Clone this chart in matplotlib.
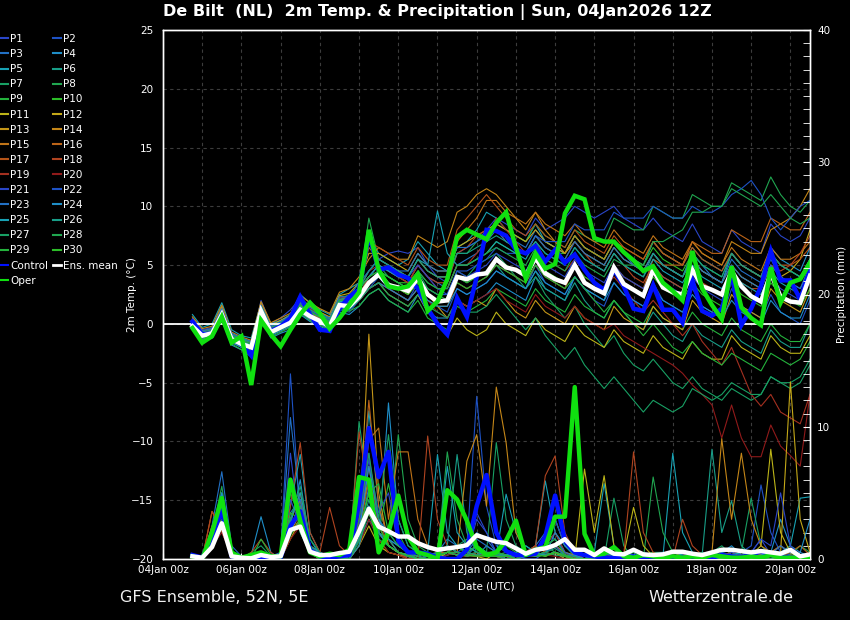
import matplotlib
matplotlib.use('Agg')
import matplotlib.pyplot as plt
import matplotlib.dates as mdates
from matplotlib.lines import Line2D
from matplotlib.ticker import MultipleLocator, FixedLocator
import pandas as pd

# ---------------- data ----------------
times = pd.date_range('2026-01-04 18:00', periods=64, freq='6h')

mean_t = [-0.2,-1.0,-0.8,0.8,-1.3,-1.7,-2.0,1.1,-0.7,-0.3,0.1,1.2,0.65,0.25,-0.2,1.6,1.5,
          2.3,3.5,4.2,3.3,3.1,2.8,3.9,2.5,1.9,2.0,4.0,3.8,4.2,4.3,
          5.5,4.8,4.6,4.1,5.6,4.3,3.8,3.5,5.0,3.5,3.0,2.6,4.8,3.4,2.9,2.4,4.6,3.1,2.7,2.5,4.6,3.2,2.9,2.5,4.5,3.2,2.35,1.9,4.3,2.3,1.9,1.8,4.1]
control_t = [0.2,-0.9,-0.8,0.8,-1.3,-1.7,-2.7,0.9,-0.6,-0.2,0.5,2.3,0.8,-0.5,-0.6,1.3,2.3,
             2.9,7.6,4.6,4.8,4.2,3.9,3.0,1.3,0.0,-0.9,2.2,0.6,4.0,8.0,
             7.9,7.5,6.3,6.0,6.6,5.3,6.3,5.2,5.9,4.6,3.5,2.9,4.6,3.2,1.3,1.1,3.3,1.2,1.2,0.1,3.7,1.1,0.7,1.3,4.2,-0.1,1.3,3.2,6.2,3.7,3.7,2.1,4.6]
oper_t = [-0.35,-1.6,-1.05,0.6,-1.6,-1.05,-5.2,0.3,-0.9,-1.9,-0.5,0.8,1.8,0.9,-0.4,0.5,1.6,
          2.7,8.0,4.6,3.2,3.0,3.2,4.2,1.1,1.9,3.8,7.4,8.0,7.6,7.2,
          8.6,9.5,6.5,3.9,6.0,4.7,5.1,9.4,10.9,10.6,7.3,7.0,7.0,6.1,5.4,4.5,4.9,3.5,2.8,2.0,6.2,3.0,1.6,0.4,4.9,1.4,0.5,-0.1,4.8,1.8,3.5,3.8,5.2]

mean_p = [0.2,0.1,0.9,2.7,0.2,0.1,0.05,0.3, 0.15,0.2,2.2,2.45,0.55,0.3,0.3,0.45,
          0.55,2.1,3.8,2.45,2.1,1.7,1.7,1.2, 0.9,0.7,0.8,0.9,1.05,1.8,1.55,1.3,
          1.2,0.8,0.4,0.7,0.8,1.05,1.5,0.7, 0.7,0.3,0.8,0.4,0.35,0.7,0.35,0.3,
          0.35,0.55,0.55,0.4,0.3,0.5,0.7,0.7, 0.6,0.5,0.6,0.5,0.4,0.7,0.2,0.35]
control_p = [0.3,0.1,1.7,3.7,0.2,0,0,0, 0,0.1,2.5,3.6,0.7,0.2,0.1,0.2,
             0.3,4.2,9.9,6.2,8.1,1.4,0.5,0.5, 0.4,0.1,0,0,0.7,4.0,6.35,2.0,
             0.6,0.3,0.3,0.4,1.7,4.8,1.4,0.5, 0.3,0.2,0.1,0.1,0.1,0.2,0.1,0.1,
             0.2,0.1,0.1,0.1,0.2,0.1,0.3,0.2, 0.1,0.3,0.6,0.3,0.2,0.1,0.1,0.1]
oper_p = [0.2,0,2.0,4.6,0.5,0.1,0.3,0.5, 0.2,0.2,6.0,2.9,0.5,0.2,0.4,0.3,
          0.7,6.2,6.0,0.5,2.0,4.8,1.7,0.5, 0.3,0,5.2,4.5,2.9,0.9,0.3,0.5,
          1.4,2.9,0.3,0.7,0.9,3.2,3.2,13.0, 1.9,0.3,0.4,0.9,0.2,0.1,0.3,0.2,
          0.1,0.2,0.1,0.2,0.1,0.3,0.2,0.1, 0.1,0.2,0.1,0.3,0.1,0.1,0.1,0.1]

# ensemble member temperatures (deg C)
p01_t = [0.5,-0.5,-0.3,1.5,-1,-1.5,-1.8,2,0,0.5,1.2,2.2,1.5,1,0.5,2,2.2,
         3,4.5,5.5,6,6.2,6,6.5,5,4,3.5,6,6.5,7,8,
         9,8.5,8,7.5,9,8,8.5,9,10,9.5,9,9.5,10,9,8.5,8,9,8,7.5,7,8.5,7,6.5,6,8,7,6.5,6,8.5,7.5,7,7.5,9]
p02_t = [-0.3,-1.2,-1,0.5,-1.5,-2,-2.5,0.8,-1,-0.5,0,1,0.3,0,-0.5,1.2,1,
         2,3,4,3,2.5,2,3.5,2,1.5,1,3,2.5,3,3.5,
         4.5,4,3.5,3,5,3.5,3,2.5,4,3,2,1.5,3.5,2.5,2,1.5,3.5,2,1.5,1,3,1.5,1,0.5,3,1.5,1,0.5,2.5,1,0.5,0,2]
p03_t = [0,-0.8,-0.6,1,-1.2,-1.4,-1.5,1.5,-0.3,0,0.5,1.8,1,0.5,0,2,2.5,
         3,4,5,4.5,4,3.5,5,4,3.5,3,5,5.5,6,7,
         8,7.5,7,6.5,8,7,6.5,6,7.5,6.5,6,5.5,7,6,5,4.5,6,5,4.5,4,6,5,4,3.5,5.5,4.5,4,3.5,5.5,4,3.5,3,5]
p04_t = [-0.5,-1.3,-1.2,0.3,-1.8,-2.2,-2.5,0.5,-1.2,-0.8,-0.5,0.8,0.2,-0.2,-0.6,1,0.8,
         1.5,2.5,3,2,1.5,1,2.5,1,0.5,0.5,2,1.5,2,2.5,
         3.5,3,2.5,2,4,3,2.5,2,4,3,2.5,2,4.5,3.5,3,2.5,5,4,3.5,3,5.5,4.5,4,3.5,6,5,4.5,4,6.5,5.5,5,4.5,6.5]
p05_t = [0.8,-0.3,0,1.8,-0.5,-1,-1.2,1.8,0,0.3,0.8,2.5,1.8,1.2,0.8,2.5,3,
         3.5,7.5,6,5.5,5,5.5,7,6,5,4.5,6.5,7,8,9.5,
         9,8,7.5,7,8.5,7,6.5,6,7.5,6.5,6,5.5,7,6,5.5,5,7,6,5.5,5,6.5,5.5,5,4.5,6,5,4.5,4,6,5,4.5,4,5.5]
p06_t = [0.2,-1,-0.9,1.2,-1.4,-1.8,-2.2,1,-0.8,-0.5,0.2,1.5,1,0.5,0,1.8,1.6,
         2.5,3.5,4.5,3.5,3,2.5,4,2.5,2,2,4,3.5,4,4.5,
         5,4,3.5,3,4.5,3,2.5,2,3.5,2,1,0.5,2,1,0,-0.5,1,0,-1,-1.5,0,-1,-1.5,-2,-0.5,-1.5,-2,-2.5,-0.5,-1.5,-2,-2,0]
p07_t = [-0.1,-1.1,-0.9,0.9,-1.2,-1.6,-2,1.2,-0.6,-0.2,0.3,1.3,0.8,0.3,-0.1,1.7,1.8,
         2.5,4,5,4,3.5,3,4.5,3,2.5,2.5,4.5,4,5,5.5,
         6,5,4,3,4,2.5,1.5,0.5,1.5,0,-1,-2,-1,-2.5,-3.5,-4,-3,-4,-5,-5.5,-4.5,-5.5,-6,-6.5,-5.5,-6,-6.5,-6,-4.5,-5,-5.5,-5,-3.5]
p08_t = [0.3,-0.7,-0.5,1.3,-0.8,-1.2,-1.5,1.6,-0.2,0.2,0.6,2,1.4,0.9,0.5,2.3,2.4,
         3,9,5.5,5,4.5,4,5.5,4.5,4,4,6,6,7,7.5,
         8.5,8,7.5,7,8.5,7.5,7,6.5,8,7.5,7,7,9,8.5,8,8,10,9.5,9,9,11,10.5,10,10,12,11.5,11,10.5,12.5,11,10,9.5,10.5]
p09_t = [-0.4,-1.4,-1.2,0.4,-1.7,-2.2,-2.8,0.7,-1.1,-0.7,-0.3,0.9,0.3,-0.1,-0.5,1.3,1.1,
         1.5,2.5,3,2,1.5,1,2,0.5,0,-0.5,1.5,1,1.5,2,
         3,2.5,2,1.5,3,2,1.5,1,2.5,1.5,1,0.5,2,1,0.5,0,1.5,0.5,0,-0.5,1,0,-0.5,-1,0.5,-0.5,-1,-1.5,0,-1,-1.5,-1.5,0]
p10_t = [0.1,-0.9,-0.7,1,-1.1,-1.5,-1.9,1.3,-0.5,-0.1,0.4,1.6,1,0.6,0.2,1.9,2,
         3,4,4.5,4,3.5,3.5,4.5,3.5,3,3,5,5,5.5,6,
         7,6.5,6,6,7.5,6.5,6,6,7.5,6.5,6,5.5,7,6,5.5,5,6.5,5.5,5,4.5,6,5,4.5,4,6,5,4.5,4,6,5,4.5,4,5.5]
p11_t = [-0.2,-1.1,-0.9,0.7,-1.4,-1.8,-2.1,1,-0.8,-0.4,0,1.1,0.5,0.1,-0.3,1.4,1.3,
         2,3,3.5,2.5,2,1.5,2.5,1,0,-1,0.5,-0.5,-1,-0.5,
         1,0,-0.5,-1,0.5,-0.5,-1,-1.5,0,-1,-1.5,-2,-0.5,-1.5,-2,-2.5,-1,-2,-2.5,-3,-1.5,-2.5,-3,-3,-1,-2,-2.5,-3,-1,-2,-2.5,-2.5,-1]
p12_t = [0.4,-0.6,-0.4,1.4,-0.9,-1.3,-1.6,1.7,-0.1,0.3,0.7,2.1,1.5,1,0.6,2.4,2.6,
         3.5,6,6,5.5,5,4.5,6,5,4.5,4.5,6.5,7,7.5,8,
         8.5,8,7.5,7,8,7,6.5,6,7,6,5.5,5,6.5,5.5,5,4.5,6,5,4.5,4,5.5,4.5,4,3.5,5,4,3.5,3,5,4,4.5,5.5,8]
p13_t = [0,-1,-0.8,0.9,-1.3,-1.7,-2,1.2,-0.7,-0.3,0.1,1.3,0.7,0.3,-0.1,1.6,1.6,
         2.5,3.5,4,3.5,3,2.5,3.5,2.5,1.5,0.5,2,1.5,2,1.5,
         3,2,1,0.5,2,1,0.5,0,1.5,0.5,0,-0.5,1.5,0.5,0,-0.5,1.5,0.5,0,-0.5,2,1,0.5,0,2.5,1.5,1,0.5,3,2,1.5,1,3]
p14_t = [0.6,-0.4,-0.2,1.6,-0.7,-1.1,-1.4,1.9,0.1,0.5,0.9,2.4,1.8,1.3,0.9,2.7,3,
         4,5.5,6.5,6,5.5,5.5,7.5,7,6.5,7,9.5,10,11,11.5,
         11,10,9,8,9.5,8,7,6,7.5,6.5,6,5.5,7,6.5,6,5.5,7,6,5.5,5,7,6,5.5,5,7,6.5,6,6,8,8.5,9,10,11.5]
p15_t = [0.2,-0.8,-0.6,1.1,-1,-1.4,-1.7,1.5,-0.4,0,0.5,1.7,1.2,0.7,0.3,2.1,2.1,
         3,6.5,5.5,5,4.5,4,5.5,4.5,4,4,7,8,9,10.5,
         10.5,9.5,9,8.5,9.5,8.5,8,7.5,8.5,7.5,7,6.5,8,7,6.5,6,7.5,6.5,6,5.5,7,6,5.5,5,6.5,5.5,5,4.5,6.5,5.5,5.5,6,7]
p16_t = [-0.3,-1.3,-1.1,0.6,-1.5,-1.9,-2.3,0.9,-0.9,-0.5,-0.1,1,0.4,0,-0.4,1.5,1.4,
         2,3,3.5,3,2.5,2,3,2,1.5,1.5,3.5,3,3.5,4,
         5,4.5,4,3.5,5,4,3.5,3,5,4,3.5,3,5,4,3.5,3,5.5,5,5,5,7,6.5,6,6,8,7.5,7,7,9,8.5,8,8,9.5]
p17_t = [0.1,-0.9,-0.7,1,-1.2,-1.6,-1.9,1.3,-0.6,-0.2,0.3,1.5,0.9,0.5,0.1,1.8,1.9,
         3,7,6.5,6,5.5,5,6.5,5.5,5,5,8,9,10,11,
         10,9,8,7.5,8.5,7.5,7,6.5,8,7,6.5,6,7.5,6.5,6,5.5,7,6,5.5,5,6.5,5.5,5,4.5,6,5,4.5,4,6,5,5,5.5,6.5]
p18_t = [-0.1,-1.1,-0.9,0.8,-1.3,-1.7,-2.1,1.1,-0.7,-0.3,0.2,1.4,0.8,0.4,0,1.7,1.7,
         2.5,4,5,4.5,4,3.5,5,4,3.5,3.5,6,6.5,7.5,8,
         8,7,6.5,6,7.5,6.5,6,5.5,7,6,5,4.5,6,5,4,3.5,5,4,3.5,3,4.5,3.5,3,2.5,4,3.5,3,3,5,4.5,5,6,7.5]
p19_t = [0.3,-0.7,-0.5,1.2,-0.9,-1.3,-1.6,1.6,-0.3,0.1,0.6,1.9,1.3,0.8,0.4,2.2,2.3,
         3,4.5,5,4.5,4,3.5,5,4,3,3,5,5,6,7,
         9,8,7,6,7,5.5,5,4.5,5.5,4.5,3.5,3,4,3,2,1,2,1,0,-1,0,-1.5,-2.5,-3.5,-2,-4,-6,-7,-6,-7.5,-8,-8.5,-6]
p20_t = [-0.2,-1.2,-1,0.7,-1.4,-1.8,-2.2,1,-0.8,-0.4,0,1.2,0.6,0.2,-0.2,1.5,1.4,
         2,3,3.5,3,2.5,2,3,2,1,0.5,2,1.5,2,2.5,
         3,2,1.5,1,2.5,1.5,1,0.5,1.5,0.5,0,-0.5,0,-1,-1.5,-2,-2.5,-3,-3.5,-4.2,-5.2,-6,-6.9,-9.7,-6.9,-9.7,-11.3,-11.3,-8.6,-10.4,-11.2,-12.1,-6]
p21_t = [0.2,-0.8,-0.6,1.1,-1,-1.4,-1.7,1.4,-0.4,0,0.5,1.7,1.1,0.7,0.3,2,2,
         3,4,5,4.5,4,4,5,4,3,2.5,4.5,4,4.5,5,
         6,5.5,5,4.5,6,5,4.5,4,5.5,4.5,4,3.5,5,4,3.5,3,4.5,3.5,3,2.5,4,3,2.5,2,4,3,2.5,2,4,3,2.5,2,4]
p22_t = [-0.1,-1,-0.8,0.9,-1.2,-1.6,-1.9,1.2,-0.6,-0.2,0.3,1.4,0.8,0.4,0,1.8,1.8,
         2.5,3.5,4,3.5,3,3,4,3,2.5,2.5,4.5,4.5,5,5.5,
         6.5,6,6,6,7.5,7,7,7,8.5,8,8,8,9.5,9,9,9,10,9.5,9,9,10,9.5,9.5,10,11,11.5,12.2,11,9,8,9,10,10.5]
p23_t = [0.4,-0.6,-0.4,1.3,-0.8,-1.2,-1.5,1.6,-0.2,0.2,0.7,2,1.4,0.9,0.5,2.3,2.3,
         3.5,4.5,5.5,5,4.5,4.5,6,5,4.5,4.5,6.5,6.5,7,7.5,
         8,7,6.5,6,7.5,6.5,6,5.5,7,6,5.5,5,6.5,5.5,5,4.5,6,5,4.5,4,5.5,4.5,4,3.5,5,4,3.5,3,5,4,3.5,3,4.5]
p24_t = [-0.4,-1.3,-1.1,0.5,-1.6,-2,-2.4,0.8,-1,-0.6,-0.2,1,0.4,0,-0.4,1.4,1.2,
         2,3,3.5,3,2.5,2,3,2,1.5,1.5,3,2.5,3,3.5,
         4.5,4,3.5,3,4.5,3.5,3,2.5,4,3,2.5,2,3.5,2.5,2,1.5,3,2,1.5,1,2.5,1.5,1,0.5,2,1,0.5,0,2,1,0.5,0.5,2.5]
p25_t = [0.1,-0.9,-0.7,1,-1.1,-1.5,-1.8,1.3,-0.5,-0.1,0.4,1.5,1,0.6,0.2,1.9,1.9,
         3,4,5,4.5,4,4,5.5,5,9.6,6,5,5,5.5,6,
         7,6.5,6,5.5,7,6,5.5,5,6.5,5.5,5,4.5,6,5,4.5,4,5.5,4.5,4,3.5,5,4,3.5,3,4.5,3.5,3,2.5,4.5,3.5,3,2.5,4]
p26_t = [0.3,-0.7,-0.5,1.2,-0.9,-1.3,-1.6,1.5,-0.3,0.1,0.6,1.8,1.2,0.8,0.4,2.1,2.2,
         3,4.5,5.5,5,4.5,4,5.5,4.5,4,4,6,6,6.5,7,
         7.5,7,6.5,6,7,6,5.5,5,6.5,5.5,5,4.5,6,5,4.5,4,6,5,4.5,4,6,5,4.5,4,6,5,4.5,4,6,5,4.5,4,5.5]
p27_t = [-0.3,-1.2,-1,0.6,-1.5,-1.9,-2.3,0.9,-0.9,-0.5,-0.1,1.1,0.5,0.1,-0.3,1.5,1.3,
         2,3,3.5,2.5,2,1.5,2.5,1.5,1,0.5,2,1,1,1.5,
         2.5,1.5,0.5,-0.5,0.5,-1,-2,-3,-2,-3.5,-4.5,-5.5,-4.5,-5.5,-6.5,-7.5,-6.5,-7,-7.5,-7,-5.5,-6,-6.5,-6,-5,-5.5,-6,-6,-4.5,-5,-5,-4.5,-3]
p28_t = [0,-1,-0.8,0.8,-1.3,-1.7,-2,1.1,-0.7,-0.3,0.2,1.3,0.7,0.3,-0.1,1.6,1.6,
         2.5,3.5,4.5,4,3.5,3,4.5,3.5,3,3,5,5,5.5,6,
         6.5,6,5.5,5,6.5,5.5,5,4.5,6,5,4.5,4,5.5,5,5,5,7,7,7.5,8,9.5,9.5,10,10,11.5,11,10.5,10,11,10,9,8.5,9]
p29_t = [0.2,-0.8,-0.6,1.1,-1,-1.4,-1.7,1.4,-0.4,0,0.5,1.6,1,0.6,0.2,2,2,
         3,4,4.5,4,3.5,3,4,3,2.5,2,3.5,3,3.5,4,
         5,4.5,4,3.5,5,4,3.5,3,4,3,2,1,2,1,0,-1,0,-1,-2,-2.5,-1.5,-2.5,-3,-3.5,-2.5,-3,-3.5,-4,-2.5,-3,-3.5,-3,-1.5]
p30_t = [-0.2,-1.1,-0.9,0.7,-1.4,-1.8,-2.1,1,-0.8,-0.4,0,1.2,0.6,0.2,-0.2,1.5,1.5,
         2.5,3.5,4,3.5,3,2.5,3.5,2.5,2,2,4,3.5,4,4.5,
         5.5,5,4.5,4,5.5,4.5,4,3.5,5,4,3.5,3,4.5,3.5,3,2.5,4,3,2.5,2,3.5,2.5,2,1.5,3.5,2.5,2,1.5,3.5,2.5,2,1.5,3]

# ensemble member precipitation (mm / 6h)
p01_p = [0.2,0,1.5,4.5,0.3,0,0,0.2, 0,0.3,8,2,0.5,0,0.2,0, 0.2,3,8,2,1,0.5,0.3,0, 0,0.5,1,0.5,0.3,3,2,0.5,
         0,0.2,0.5,0.3,1,2,0.5,0, 0,0,0.3,0,0,0.2,0,0, 0,0,0.3,0.5,0.2,0,0,0, 0,0.5,1.5,0.3,0,0.2,0,0]
p02_p = [0,0.1,2,5,0.5,0,0,0, 0,0.5,14,3,0.5,0.2,0,0, 0,1,4,3,1.5,0.5,0,0, 0,0,0.3,0.5,1,12.3,4,1,
         0.5,0.3,0,0,0.5,1,0.3,0, 0,0,0,0,0.3,0.5,0,0, 0,0,0,0.3,0,0,0,0.2, 0.5,1,5.6,2,0.5,0.3,0,0]
p03_p = [0.3,0,2.5,6.6,1,0.2,0,0.5, 0.2,0.5,10.7,4,1,0.3,0,0.2, 0.5,2,5,2.5,1,0.5,0.2,0, 0.2,0.5,1.5,1,0.5,2,1.5,0.5,
         0.2,0,0.5,1,2,1.5,0.5,0.2, 0,0,0.5,0.3,0,0,0.2,0, 0,0.2,0.5,0.3,0,0,0.5,0.3, 0,0,0.3,0.5,1,0.3,0.2,0]
p04_p = [0.2,0,1,3,0.5,0,0.3,3.2, 0.5,0,3,5,1,0.2,0,0, 0,1.5,3,1.5,11.8,3,1,0.5, 0.2,0,0.5,1,0.5,0.2,1,0.5,
         0,0,0.2,0.5,1.5,3,1,0.3, 0,0,0,0.2,0,0,0.5,0.3, 0,0,0,0,0.3,0,0.5,1, 0.3,0,0,0.5,3,1,0.5,0.2]
p05_p = [0.3,0,2,5,0.5,0,0,0, 0,0.2,4,7.9,2,0.5,0.2,0, 0.2,2,11.2,4,1.5,1,0.5,0.2, 0.5,7.9,2,1,0.5,1,0.5,0.3,
         4.9,2,0.5,1,5.9,2,0.5,0.2, 0,0.5,5.7,1,0.3,0,0,0, 0.2,8,2,0.5,0.2,0.3,0,0.5, 0.2,0,0,0.3,0.5,1,4.6,4.7]
p06_p = [0.2,0,1.5,4,0.5,0,0,0, 0,0,2,4,1,0.2,0,0, 0,1,3,2,1,0.5,0.3,0, 0,0.5,1,7.9,2,0.5,0.3,0.2,
         0,0.5,1,0.5,0.3,0.5,0,0, 0.3,0,0.5,0,0,0.3,0,0.5, 0.3,0,0.5,0.2,0.3,8.3,2,4.4, 1,0.3,0,0,0.3,0.5,0.2,0]
p07_p = [0.1,0,1,3,0.3,0,0.5,1, 0.2,0,2,4.5,1,0.3,0,0, 0,10.4,5,2,1,0.5,0.3,0.5, 0.3,0.2,0.5,1,1.5,1,0.5,8.8,
         3,1,0.5,0.3,0.5,1,0.5,0, 0,0.5,0,4.6,1,0,0,0.5, 0.5,0,0,0,0.2,0.5,1,0.3, 0.5,4.6,1,0.3,0,0,0.3,0]
p08_p = [0.2,0,2,5.5,0.5,0,0,0.3, 0,0.3,5,3,1,0.3,0,0, 0,2,7,3,1.5,9.4,3,1, 0.5,0.3,8.1,3,1,0.5,0.3,0.2,
         0,0,0.5,0.5,1,0.5,0.2,0, 0,0,0,0,0.3,0.5,0,6.2, 2,0.5,0.3,0,0,0,0,0.2, 0,0.3,0.5,0.2,0,0.3,1,0.5]
p09_p = [0,0,1,3.5,0.3,0,0,0.5, 0,0,3,2.5,0.5,0,0,0.2, 0.5,1.5,4,2,5.7,2,0.5,0.2, 0,0,0.3,0.5,0.3,1,0.5,0.5,
         1,0.5,0.3,0.5,1,3,1,0.2, 0,0,0,0,0,0,0.3,0.5, 0.2,0,0,0,0.5,0.3,0,0, 0,0.5,0.3,0,0,0,0,0.3]
p10_p = [0.2,0,1.5,4,0.5,0.1,0,0.3, 0.2,0,6.1,2,0.5,0,0.2,0, 0,2.5,6,2,1,0.5,0.2,0, 0,0.2,0.5,1,0.5,0.3,0.2,0.5,
         0.2,0.3,0.5,0.2,0.3,0.5,0.2,0, 0,0,0,0.2,0,0,0,0.5, 0,0,0.3,0,0,0,0.2,0.3, 0.2,0,0.3,0.5,0.2,0,0,0]
p11_p = [0,0,0.8,2.5,0.3,0,0,0.2, 0,0,1.5,3,0.5,0,0,0, 0,1,2.5,1,0.5,0.3,0,0, 0,0,0.5,0.5,0.3,0.2,0,0.5,
         0.2,0,0.3,0.5,0.2,0.5,0,0, 6.8,2,6.3,1,0.3,3.9,1,0.2, 0,0,0.5,0.3,0,0,0,0, 0.5,0.3,1,8.3,2,0.5,0,0]
p12_p = [0.2,0,1,3,0.5,0,0,0, 0,0.2,2.5,4,0.5,0.2,0,0, 0.2,1.5,3.5,1.5,0.5,0.3,0.2,0, 0,0.3,1,0.5,0.2,0.5,0.3,0.3,
         0,0.2,0.5,0.3,0.5,1,0.3,0, 0,0,0,0.5,0.3,0,0,0, 0.3,0.5,0.2,0,0,0,0,0.3, 0.2,0,0,0.3,0.5,13.4,3,0.5]
p13_p = [0.3,0,1.5,3.5,0.5,0,0,0.2, 0,0,2,3.5,1,0.3,0,0, 0,2,17,5,1,0.5,0.2,0, 0,0.2,0.5,0.3,0.5,0.2,0.3,0.5,
         0.3,0.2,0.5,0.3,0.3,0.5,0.3,0.2, 0,0,0,0,0.5,0.3,0,0, 0,0,0,0.3,0.2,0,0,0, 0,0,0.3,0.5,0.3,0.2,0,0]
p14_p = [0.2,0,2,4,0.5,0,0,0, 0,0.3,3,4.5,1,0.3,0,0, 0.3,3,6,2,1,0.5,0.2,0, 0,0.3,1,0.5,7.4,9.4,4,13,
         8.8,2,0.5,0.3,0.5,1,0.5,0.3, 0,0,0.3,0,0,0.2,0,0, 0,0,0.2,0,0,0.5,9.1,3, 8,3,1,0.5,0,0.2,0,0]
p15_p = [0.3,0,2.5,3.5,0.5,0,0.3,0.5, 0.2,0,2,3,0.5,0.3,0.2,0, 0,2.5,9,9.9,3,8.1,8.1,3, 1,0.5,0.5,0.3,0.5,0.3,0.2,0.3,
         0.2,0,0.3,0.5,0.3,0.5,0.2,0, 0,0.3,0,0,0,0,0,0.3, 0.2,0,0,0,0.3,0.5,0.2,0, 0,0.2,0.3,0.5,1,0.5,0.2,0]
p16_p = [0.2,0,3.6,2,0.5,0,0,0.3, 0,0.2,2,3,1,0.5,0.2,0, 0.3,3,12,4,1.5,0.5,0.3,0.2, 0,0.2,0.5,0.3,0.2,0.5,0.3,0.2,
         0,0.3,0.5,1,0.5,0.3,0.2,0, 0,0,0.2,0.3,0,0,0.2,0, 0,0,0.3,0.2,0,0,0.3,0.5, 0.2,0,0.5,0.3,0.2,0.5,1,0.3]
p17_p = [0.1,0,2,3,0.3,0,0,0, 0,0,2.5,4,0.5,0.2,0,0, 0,2,6,3,1,0.5,0,0, 0,0.3,0.5,0.5,0.3,0.2,0.5,0.3,
         0.2,0,0.3,0.2,0.5,1,0.3,0, 0,0,0,0.2,0,0,0,0, 0,0,0,0,0.2,0.3,0,0, 0,0,0.2,0.3,0,0.2,0,0]
p18_p = [0.2,0,3.6,2.5,0.5,0,0.5,1.5, 0.5,0,4,8.8,2,0.5,3.9,1, 0.3,9.6,5,2,1,0.5,0.3,0, 9.3,3,1,0.5,0.3,0.2,0.5,0.3,
         0,0.2,0.5,1,6.3,7.8,2,0.5, 0,0,0.2,0,0.3,8.1,2,0.5, 0.2,0,3,1,0.3,0,0.2,0, 0,0.3,0.5,0.2,0,0.3,0,0]
p19_p = [0.2,0,2,3,0.5,0,0,0.3, 0,0.3,3,5,1,0.2,0,0, 0,3,7,2.5,1,0.5,0.2,0, 0.3,0.5,1,0.5,0.3,0.5,0.3,0.2,
         0,0.2,0.3,0.5,1,2,0.5,0, 0,0,0,0.3,0.2,0,0,0, 0,0,0.3,0.2,0,0,0,0, 0,0,0.2,0,0,0,0,0]
p20_p = [0,0,1,2,0.3,0,0,0, 0,0,1.5,2.5,0.5,0,0,0, 0,1,3,1.5,0.5,0.3,0,0, 0,0,0.3,0.5,0.2,0.3,0.5,0.3,
         0.2,0,0.3,0.5,0.3,0.2,0,0, 0,0,0,0.2,0,0,0,0, 0,0,0,0,0,0,0,0, 0,0,0,0,0,0,0,0]
p21_p = [0.2,0,1.2,3.8,0.4,0,0,0.2, 0,0.2,4.5,2.5,0.5,0,0,0, 0,2.5,7.5,3.5,5,1,0.5,0.2, 0,0.3,0.5,1,0.5,3.5,2,0.5,
         0.3,0.2,0.5,0.3,1.5,3,1,0.3, 0,0,0.3,0.5,0,0,0,0, 0,0.3,0,0,0.5,0.3,0,0.5, 0.3,0.5,1.5,1,5,1,0.3,0]
p22_p = [0.2,0,1.8,4.2,0.5,0,0,0, 0.3,0,5.5,3,1,0.2,0,0, 0.2,1.5,4,2,1,0.5,0.2,0, 0.2,0.3,1,0.5,0.3,1,0.5,0.3,
         0,0.3,0.5,0.2,0.5,1,0.3,0, 0,0,0,0.3,0.5,0,0,0, 0,0,0.3,0,0.2,0,0,0, 0.5,0.3,0.5,0.3,0.2,0,0,0]
p23_p = [0.3,0,2,4.8,0.5,0,0,0, 0,0.2,3.5,4.5,1,0.5,0.2,0, 0,1.5,5.5,3,2,1,0.5,0, 0.3,0.5,1,0.5,0.5,1.5,1,0.5,
         0.2,0.3,0.5,0.5,1,1.5,0.5,0.2, 0,0.3,0,0,0.2,0,0,0.3, 0.5,0,0,0.3,0,0,0,0, 0,0.2,0.5,0.3,1,0.5,0.3,0]
p24_p = [0.2,0,1.5,5,0.5,0,0,0.5, 0,0,2.5,6,1,0.3,0,0, 0.3,2,7,3,1.5,1,0.5,0.2, 0,0.2,0.5,0.3,0.5,1,0.5,0.3,
         0.3,0,0.2,0.5,0.3,2,1,0.3, 0,0,0.5,0.2,0,0,0.3,0, 0,0,0,0.5,0.3,0,0.2,0, 0,0,0.3,0.5,0.2,0,0.5,3]
p25_p = [0.2,0,1,4,0.5,0,0,0, 0,0.3,3,5,1.5,0.3,0,0, 0,1,4,2,1,0.5,0.3,0, 0,0.3,7,2,1,0.5,0.3,0.5,
         0.3,0.5,1,0.5,0.3,0.5,0.3,0, 0,0.3,0,0,0.5,0.3,0,0, 0.3,0.5,0.3,0,0,0,0,0.3, 0.5,0.3,0,0,0.3,0.2,0,0.3]
p26_p = [0.1,0,1.5,3.5,0.4,0,0,0, 0,0,2,4,1,0.3,0,0, 0.2,1.5,4.5,2,1.5,0.5,0.3,0, 0,0.3,0.5,1,0.5,0.3,0.5,0.3,
         0.2,0.3,0.5,0.3,0.5,0.8,0.3,0.2, 0,0,0.3,0.5,0.3,0,0,0, 0,0,0,0,0.3,0.5,0.3,0, 0,0.3,0.5,0.3,0,0,0,0]
p27_p = [0.2,0,2,4.5,0.5,0,0,0.3, 0,0.2,3,5.5,1.5,0.5,0,0, 0,3,8,3,9.4,3,1,0.5, 0.2,0.5,1,0.5,0.3,0.5,0.5,0.3,
         0.5,0.3,0.5,0.3,0.5,0.3,0.2,0, 0,0,0.5,0.3,0,0,0,0, 0,0,0,0.3,0.5,0,0,0, 0,0,0,0.3,0,0,0,0]
p28_p = [0.2,0,1.3,3,0.3,0,0,0, 0,0,1.8,3,0.5,0,0,0, 0,1.3,3.5,1.5,1,0.5,0.2,0, 0,0.2,0.5,0.5,0.2,0.3,0.2,0.2,
         0,0.2,0.3,0.2,0.3,0.5,0.3,0, 0,0,0,0.2,0,0,0,0.3, 0.3,0,0,0,0,0,0.2,0, 0,0,0.2,0.3,0,0,0,0]
p29_p = [0.3,0,2,3.5,0.5,0,0,1.5, 0.3,0,2.5,3.5,1,0.3,0,0, 0,2,5,5.7,2,1,0.5,0.2, 0,0.3,0.5,0.3,0.5,1,0.5,0.5,
         0.3,0,0.3,0.5,1,1.5,0.3,0, 0,0,0.3,0,0,0,0,0, 0,0,0.2,0,0,0,0,0, 0,0,0,0,0,0,0,0]
p30_p = [0.2,0,1.5,4.2,0.5,0,0,0.2, 0,0.2,3.5,3,0.5,0.2,0,0, 0.3,2,5,2.5,1,0.5,0.3,0, 0,0.2,0.5,1,0.3,0.2,0.3,0.2,
         0.2,0.3,0.5,0.3,0.2,0.5,0.2,0, 0,0,0,0.3,0,0,0,0.2, 0,0,0.2,0.3,0,0,0,0, 0.2,0,0,0.3,0,0,0,0]

member_names = ['P%d' % k for k in range(1, 31)]
member_colors_20 = ['#2a46c8', '#1e52c4', '#2270c4', '#1f8ec8', '#18a2b4', '#189e88',
                    '#18a064', '#20a650', '#24b23c', '#2cbc28', '#bcb418', '#c4a818',
                    '#c49618', '#c48618', '#c07418', '#bc6418', '#b45418', '#b04420',
                    '#a43020', '#901a1a']
member_colors = member_colors_20 + member_colors_20[:10]

temps = [p01_t, p02_t, p03_t, p04_t, p05_t, p06_t, p07_t, p08_t, p09_t, p10_t,
         p11_t, p12_t, p13_t, p14_t, p15_t, p16_t, p17_t, p18_t, p19_t, p20_t,
         p21_t, p22_t, p23_t, p24_t, p25_t, p26_t, p27_t, p28_t, p29_t, p30_t]
precs = [p01_p, p02_p, p03_p, p04_p, p05_p, p06_p, p07_p, p08_p, p09_p, p10_p,
         p11_p, p12_p, p13_p, p14_p, p15_p, p16_p, p17_p, p18_p, p19_p, p20_p,
         p21_p, p22_p, p23_p, p24_p, p25_p, p26_p, p27_p, p28_p, p29_p, p30_p]

for nm, arr in zip(member_names, temps):
    assert len(arr) == 64, ('temp', nm, len(arr))
for nm, arr in zip(member_names, precs):
    assert len(arr) == 64, ('prec', nm, len(arr))

CONTROL_C = '#0010ff'
OPER_C = '#10e010'

# ---------------- figure ----------------
W, H = 850, 620
fig = plt.figure(figsize=(W / 100, H / 100), dpi=100, facecolor='black')
ax = fig.add_axes([163 / W, 61 / H, 647 / W, 529 / H])
ax.set_facecolor('black')
ax2 = ax.twinx()

for t, c in zip(temps, member_colors):
    ax.plot(times, t, color=c, lw=0.8, zorder=2)
ax.axhline(0, color='white', lw=1.3, zorder=3)
ax.plot(times, control_t, color=CONTROL_C, lw=3.2, zorder=4, solid_joinstyle='miter')
ax.plot(times, mean_t, color='white', lw=3.2, zorder=5, solid_joinstyle='miter')
ax.plot(times, oper_t, color=OPER_C, lw=3.2, zorder=6, solid_joinstyle='miter')

for p, c in zip(precs, member_colors):
    ax2.plot(times, p, color=c, lw=0.8, zorder=2)
ax2.plot(times, control_p, color=CONTROL_C, lw=3.2, zorder=4)
ax2.plot(times, oper_p, color=OPER_C, lw=3.2, zorder=5)
ax2.plot(times, mean_p, color='white', lw=3.2, zorder=6)

ax.set_ylim(-20, 25)
ax2.set_ylim(0, 40)
ax.set_yticks(list(range(-20, 26, 5)))
ax2.set_yticks([0, 10, 20, 30, 40])
ax2.yaxis.set_minor_locator(MultipleLocator(1))

x0 = pd.Timestamp('2026-01-04 00:00')
x1 = pd.Timestamp('2026-01-20 12:00')
ax.set_xlim(x0, x1)
major_days = pd.date_range('2026-01-04', '2026-01-20', freq='2D')
minor_days = pd.date_range('2026-01-04', '2026-01-20', freq='1D')
ax.xaxis.set_major_locator(FixedLocator(mdates.date2num(major_days)))
ax.xaxis.set_minor_locator(FixedLocator(mdates.date2num(minor_days)))
ax.xaxis.set_major_formatter(mdates.DateFormatter('%d%b %Hz'))

grid_kw = dict(color='#3c3c3c', lw=0.8, ls=(0, (3, 3)))
ax.grid(True, axis='x', which='both', **grid_kw)
ax.grid(True, axis='y', which='major', **grid_kw)
ax.set_axisbelow(True)

for a in (ax, ax2):
    for s in a.spines.values():
        s.set_color('white')
        s.set_linewidth(1.0)

ax.tick_params(axis='both', which='both', colors='white', labelsize=7.5, direction='in')
ax.tick_params(axis='y', length=0, pad=7)
ax.tick_params(axis='x', which='major', length=4, pad=4)
ax.tick_params(axis='x', which='minor', length=0)
ax2.tick_params(axis='y', which='both', colors='white', labelsize=7.5, direction='in', pad=5)
ax2.tick_params(axis='y', which='major', length=5)
ax2.tick_params(axis='y', which='minor', length=5)

ax.set_ylabel('2m Temp. (°C)', color='white', fontsize=7.5)
ax.yaxis.set_label_coords((137 - 163) / 647, 0.5)
ax2.set_ylabel('Precipitation (mm)', color='white', fontsize=7.5, labelpad=5)
ax.set_xlabel('Date (UTC)', color='white', fontsize=7.5, labelpad=5)

fig.text(163 / W, 1 - 12 / H, 'De Bilt  (NL)  2m Temp. & Precipitation | Sun, 04Jan2026 12Z',
         ha='left', va='center', fontsize=11.5, fontweight='bold', color='white')
fig.text(120 / W, 1 - 598 / H, 'GFS Ensemble, 52N, 5E', ha='left', va='center',
         fontsize=11.5, color='#f0f0f0')
fig.text(793 / W, 1 - 598 / H, 'Wetterzentrale.de', ha='right', va='center',
         fontsize=11.5, color='#f0f0f0')

# legend: row-major order P1 P2 / P3 P4 / ... / Control Ens.mean / Oper
handles = {}
for nm, c in zip(member_names, member_colors):
    handles[nm] = Line2D([], [], color=c, lw=1.5)
handles['Control'] = Line2D([], [], color=CONTROL_C, lw=1.5)
handles['Ens. mean'] = Line2D([], [], color='white', lw=2.0)
handles['Oper'] = Line2D([], [], color=OPER_C, lw=1.5)
col1 = ['P%d' % k for k in range(1, 31, 2)] + ['Control', 'Oper']
col2 = ['P%d' % k for k in range(2, 31, 2)] + ['Ens. mean']
order = col1 + col2
leg = fig.legend([handles[n] for n in order], order, loc='upper left',
                 bbox_to_anchor=(0.0, 1 - 34 / H), ncol=2, frameon=False,
                 fontsize=7.5, labelcolor='white', handlelength=0.8,
                 handletextpad=0.15, columnspacing=0.5, labelspacing=0.49,
                 borderpad=0.0, borderaxespad=0.0)

fig.savefig('out.png', dpi=100, facecolor='black')
